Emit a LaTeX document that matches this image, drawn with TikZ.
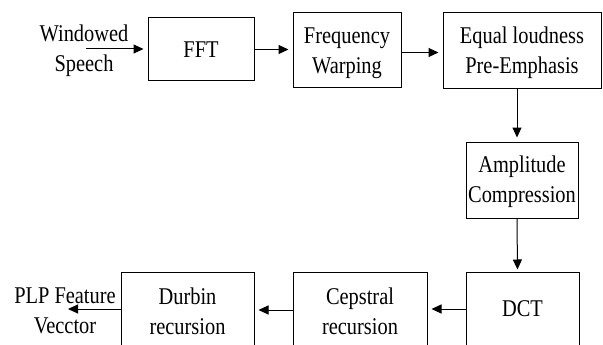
\documentclass[tikz,border=0pt]{standalone}
\usepackage{fontspec}
\setmainfont{Liberation Serif}[FakeStretch=0.85]
\usetikzlibrary{arrows.meta,calc}
\newcommand{\tstrut}{\rule{0pt}{20.5pt}}
\begin{document}
\begin{tikzpicture}[x=1pt,y=-1pt,
  box/.style={draw,line width=1pt,inner sep=0pt,align=center,font=\fontsize{24}{30}\selectfont},
  lbl/.style={inner sep=0pt,align=center,font=\fontsize{24}{30}\selectfont},
  arr/.style={line width=1pt,-{Triangle[length=10pt,width=9pt]},shorten >=4pt}]
\useasboundingbox (0,0) rectangle (603,345);
\clip (0,0) rectangle (603,345);
\fill[white] (0,0) rectangle (603,345);
% top row
\node[box,minimum width=106pt,minimum height=63pt] (fft) at (201,49.5) {FFT};
\node[box,minimum width=108pt,minimum height=75pt] (fw) at (347,50.5) {\tstrut Frequency\\Warping};
\node[box,minimum width=158pt,minimum height=76pt] (el) at (522,51) {\tstrut Equal loudness\\Pre-Emphasis};
\node[box,minimum width=112pt,minimum height=76pt] (ac) at (522,180) {\tstrut Amplitude\\Compression};
% bottom row
\node[box,minimum width=113pt,minimum height=74pt] (dct) at (522.5,309) {DCT};
\node[box,minimum width=134pt,minimum height=74pt] (cep) at (360,309) {\tstrut Cepstral\\recursion};
\node[box,minimum width=133pt,minimum height=74pt] (dur) at (187.5,309) {\tstrut Durbin\\recursion};
% labels
\node[lbl] (ws) at (84,48.5) {\tstrut Windowed\\Speech};
\node[lbl] (plp) at (65,308.5) {\tstrut PLP Feature\\Vecctor};
\coordinate (win) at (86,49);
\coordinate (pout) at (68,309);
% connectors
\draw[arr] (win) -- (win -| fft.west);
\draw[arr] (fft.east) -- (fft.east -| fw.west);
\draw[arr] ([yshift=-2pt]fw.east) -- ([yshift=-2pt]fw.east -| el.west);
\draw[arr] ([xshift=-5pt]el.south) -- ([xshift=-5pt]ac.north);
\draw[arr,shorten >=2pt] ([xshift=-5pt]ac.south) -- ([xshift=-5pt]dct.north);
\draw[arr] (dct.west) -- (dct.west -| cep.east);
\draw[arr] ([yshift=-1pt]cep.west) -- ([yshift=-1pt]cep.west -| dur.east);
\draw[arr,shorten >=0pt] (dur.west) -- (pout);
\end{tikzpicture}
\end{document}
